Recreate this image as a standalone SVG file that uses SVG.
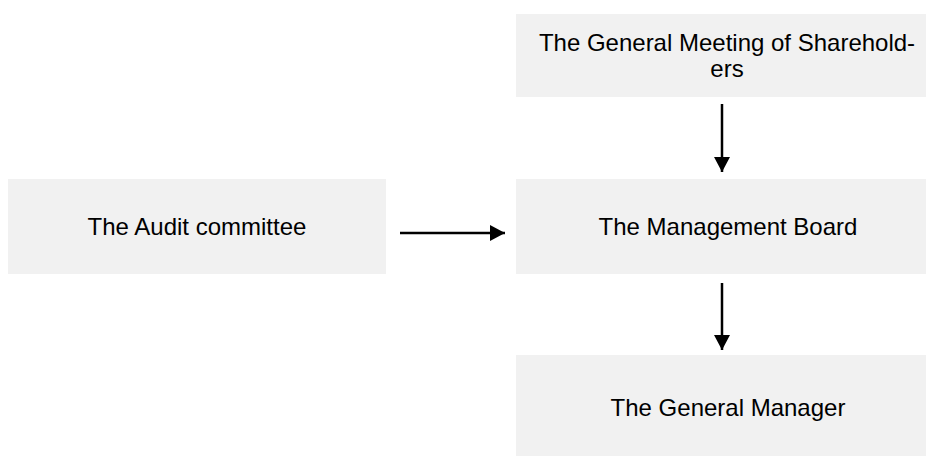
<svg xmlns="http://www.w3.org/2000/svg" width="926" height="456" viewBox="0 0 926 456">
<style>
.box{fill:#f1f1f1;stroke:none}
.lbl{font-family:"Liberation Sans",Arial,sans-serif;font-size:24px;fill:#000;text-anchor:middle}
.conn{stroke:#000;stroke-width:2.5;fill:none}
</style>
<defs>
<marker id="ah" markerUnits="userSpaceOnUse" markerWidth="16" markerHeight="16" refX="15" refY="8" orient="auto">
<path d="M0,0 L15,8 L0,16 Z" fill="#000"/>
</marker>
</defs>
<rect width="926" height="456" fill="#fff"/>
<g id="gms">
<rect class="box" x="516" y="14" width="410" height="83"/>
<text class="lbl" x="727" y="51">The General Meeting of Sharehold-</text>
<text class="lbl" x="727" y="77">ers</text>
</g>
<g id="audit">
<rect class="box" x="8" y="179" width="378" height="95"/>
<text class="lbl" x="197" y="235">The Audit committee</text>
</g>
<g id="board">
<rect class="box" x="516" y="179" width="410" height="95"/>
<text class="lbl" x="728" y="235">The Management Board</text>
</g>
<g id="manager">
<rect class="box" x="516" y="355" width="410" height="101"/>
<text class="lbl" x="728" y="416">The General Manager</text>
</g>
<g id="connectors">
<line class="conn" x1="400" y1="233" x2="505" y2="233" marker-end="url(#ah)"/>
<line class="conn" x1="722" y1="104" x2="722" y2="172" marker-end="url(#ah)"/>
<line class="conn" x1="722" y1="283" x2="722" y2="350" marker-end="url(#ah)"/>
</g>
</svg>
